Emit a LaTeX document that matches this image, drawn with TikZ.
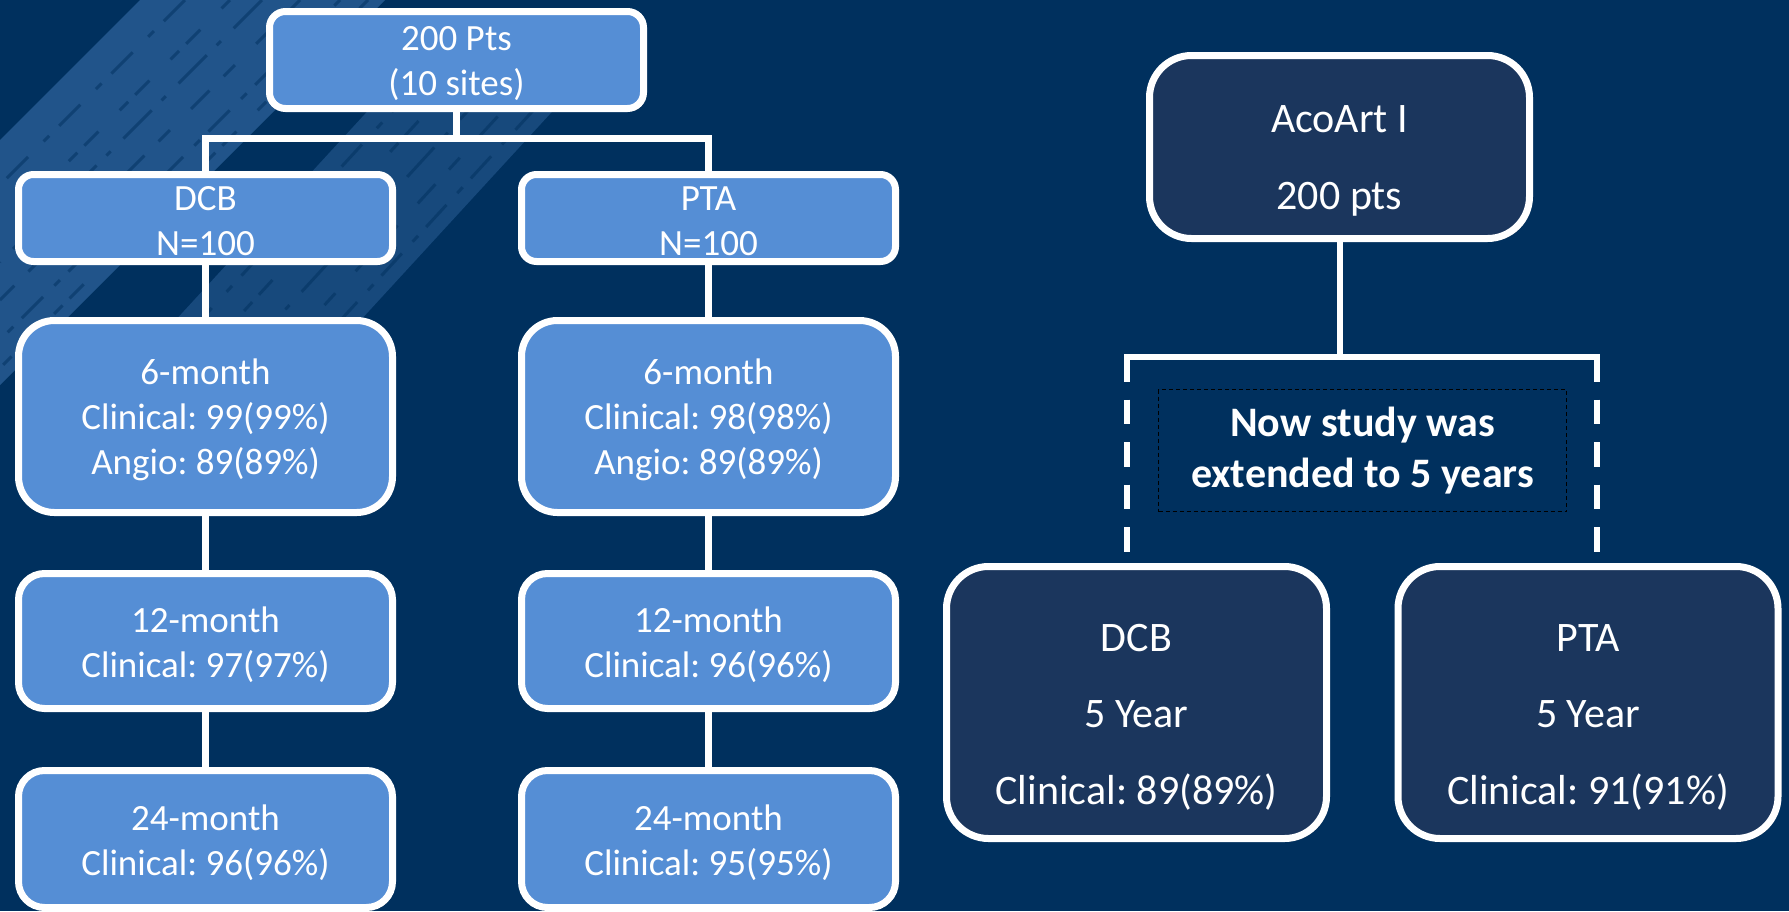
\documentclass[tikz,border=0pt]{standalone}
\usepackage{fontspec}
\setmainfont{Carlito}
\frenchspacing
\usetikzlibrary{shadows}
\definecolor{bg}{RGB}{0,48,94}
\definecolor{lblue}{RGB}{85,142,213}
\definecolor{dbox}{RGB}{27,54,93}
\definecolor{texcol}{RGB}{42,94,150}
\begin{document}
\begin{tikzpicture}[x=1pt,y=-1pt,
  shad/.style={drop shadow={shadow xshift=2pt,shadow yshift=-3pt,opacity=0.35,fill=black}},
  lbox/.style={draw=white,line width=7pt,fill=lblue,inner sep=0pt,minimum width=374pt,shad},
  ltext/.style={text=white,align=center,inner sep=0pt,font=\fontsize{37}{45}\selectfont},
  dbx/.style={draw=white,line width=7pt,fill=dbox,inner sep=0pt,minimum width=380pt,rounded corners=42pt,shad},
  dtext/.style={text=white,align=center,inner sep=0pt,font=\fontsize{42}{76.5}\selectfont},
  conn/.style={draw=white,line width=7pt},
  rconn/.style={draw=white,line width=6pt},
  dconn/.style={draw=white,line width=6pt,dash pattern=on 24.5pt off 18pt},
  streak/.style={draw=bg,line width=3pt,opacity=0.5},
  sa/.style={dash pattern=on 30pt off 14pt on 8pt off 22pt},
  sb/.style={dash pattern=on 12pt off 30pt on 20pt off 10pt},
  sc/.style={dash pattern=on 40pt off 18pt on 6pt off 14pt},
  sd/.style={dash pattern=on 16pt off 20pt on 26pt off 30pt},
  se/.style={dash pattern=on 8pt off 16pt on 30pt off 12pt},
  notebox/.style={draw=black,line width=1.3pt,dash pattern=on 4pt off 3pt,text=white,align=center,
    inner sep=0pt,font=\bfseries\fontsize{42}{51}\selectfont,minimum width=408pt,minimum height=122pt}]
\useasboundingbox (0,0) rectangle (1789,911);
\fill[bg] (0,0) rectangle (1789,911);
% brush texture
\begin{scope}
\clip (0,0) rectangle (1789,911);
\fill[texcol,opacity=0.8] (0,140) -- (140,0) -- (385,0) -- (0,385) -- cycle;
\fill[texcol,opacity=0.55] (387,90) -- (572,90) -- (324,360) -- (139,360) -- cycle;
\draw[streak,sa] (185,0) -- (0,185);
\draw[streak,sb] (230,0) -- (0,230);
\draw[streak,sc] (262,0) -- (0,262);
\draw[streak,sd] (300,0) -- (0,300);
\draw[streak,se] (340,0) -- (0,340);
\draw[streak,sb] (368,0) -- (0,368);
\draw[streak,sa] (412,90) -- (164,360);
\draw[streak,sb] (447,90) -- (199,360);
\draw[streak,sc] (487,90) -- (239,360);
\draw[streak,sd] (522,90) -- (274,360);
\draw[streak,se] (552,90) -- (304,360);
\end{scope}
% left tree
\node[lbox,rounded corners=16pt,minimum height=97pt] (top) at (456.5,60) {};
\node[lbox,rounded corners=15pt,minimum height=87pt] (dcb) at (205.5,218) {};
\node[lbox,rounded corners=15pt,minimum height=87pt] (pta) at (708.5,218) {};
\node[lbox,rounded corners=36pt,minimum height=192pt] (m6l) at (205.5,416.5) {};
\node[lbox,rounded corners=36pt,minimum height=192pt] (m6r) at (708.5,416.5) {};
\node[lbox,rounded corners=26pt,minimum height=135pt] (m12l) at (205.5,641) {};
\node[lbox,rounded corners=26pt,minimum height=135pt] (m12r) at (708.5,641) {};
\node[lbox,rounded corners=26pt,minimum height=137pt] (m24l) at (205.5,839) {};
\node[lbox,rounded corners=26pt,minimum height=137pt] (m24r) at (708.5,839) {};
\node[ltext] (topt) at (456.5,63.5) {200 Pts\\(10 sites)};
\node[ltext] (dcbt) at (205.5,221.5) {DCB\\N=100};
\node[ltext] (ptat) at (708.5,221.5) {PTA\\N=100};
\node[ltext] (m6lt) at (205.5,420) {6-month\\Clinical: 99(99\%)\\Angio: 89(89\%)};
\node[ltext] (m6rt) at (708.5,420) {6-month\\Clinical: 98(98\%)\\Angio: 89(89\%)};
\node[ltext] (m12lt) at (205.5,644.5) {12-month\\Clinical: 97(97\%)};
\node[ltext] (m12rt) at (708.5,644.5) {12-month\\Clinical: 96(96\%)};
\node[ltext] (m24lt) at (205.5,842.5) {24-month\\Clinical: 96(96\%)};
\node[ltext] (m24rt) at (708.5,842.5) {24-month\\Clinical: 95(95\%)};
\coordinate (hj) at (456.5,138);
\draw[conn] (top.south) -- (hj);
\draw[conn] (dcb.north) -- (dcb.north |- hj) -- (pta.north |- hj) -- (pta.north);
\draw[conn] (dcb.south) -- (m6l.north);
\draw[conn] (m6l.south) -- (m12l.north);
\draw[conn] (m12l.south) -- (m24l.north);
\draw[conn] (pta.south) -- (m6r.north);
\draw[conn] (m6r.south) -- (m12r.north);
\draw[conn] (m12r.south) -- (m24r.north);
% right tree
\node[dbx,minimum height=183pt] (aco) at (1339.5,147) {};
\node[dtext] (acot) at (1339.5,161) {AcoArt I\\200 pts};
\node[dbx,minimum height=272pt] (dcb5) at (1136.5,702.5) {};
\node[dtext] (dcb5t) at (1136.5,717) {DCB\\5 Year\\Clinical: 89(89\%)};
\node[dbx,minimum height=272pt] (pta5) at (1588,702.5) {};
\node[dtext] (pta5t) at (1588,717) {PTA\\5 Year\\Clinical: 91(91\%)};
\node[notebox] (note) at (1362.5,450.5) {Now study was\\extended to 5 years};
\coordinate (rj) at (1339.5,357);
\coordinate (dl) at (1127,357);
\coordinate (dr) at (1597,357);
\coordinate (dle) at (1127,553);
\coordinate (dre) at (1597,553);
\draw[rconn] (aco.south) -- (rj);
\draw[rconn] ([xshift=-3pt]dl) -- ([xshift=3pt]dr);
\draw[dconn] (dl) -- (dle);
\draw[dconn] (dr) -- (dre);
\end{tikzpicture}
\end{document}
